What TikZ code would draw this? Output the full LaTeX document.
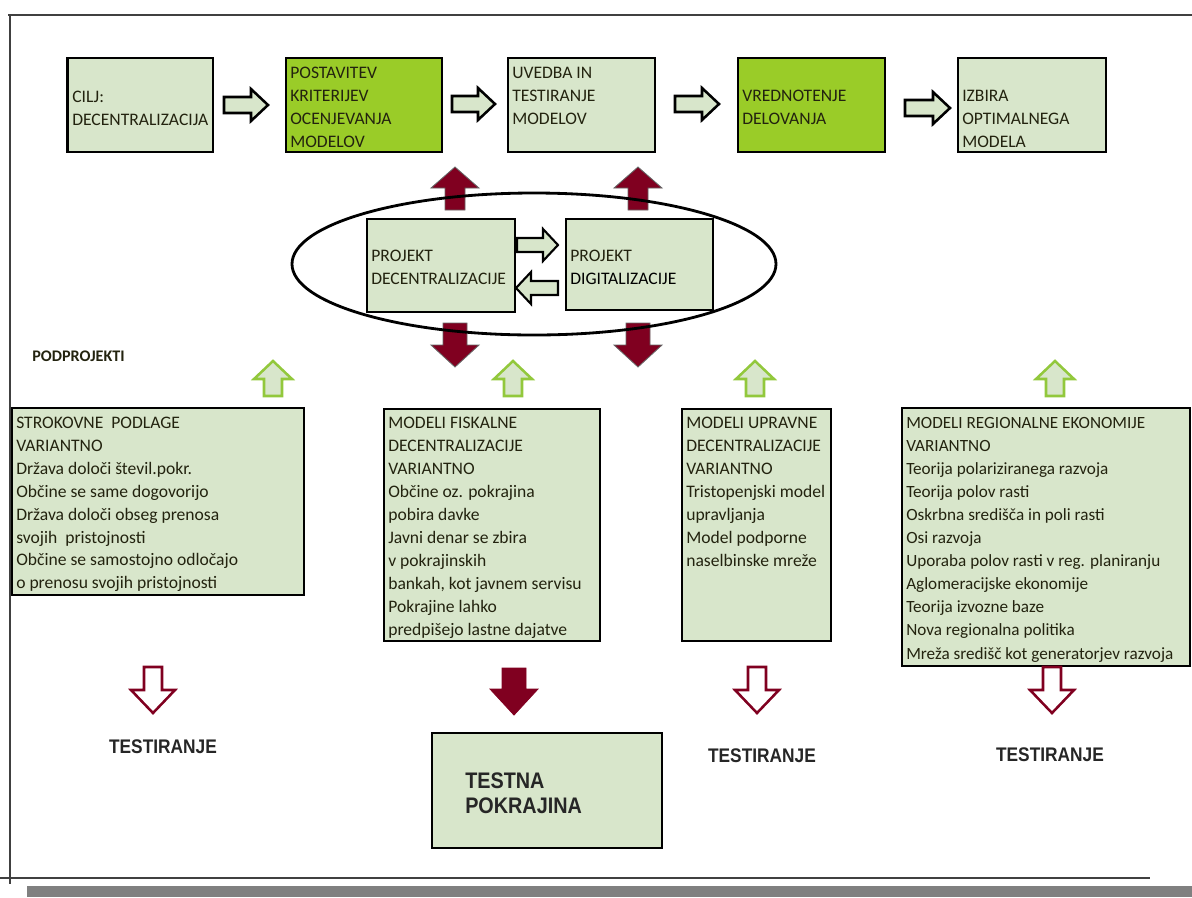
\documentclass[tikz,border=0pt]{standalone}
\usepackage{fontspec}
\setmainfont{Carlito}
\newfontfamily\narrowfont[FakeStretch=0.88]{Liberation Sans}
\definecolor{lgreen}{RGB}{216,230,203}
\definecolor{ygreen}{RGB}{154,204,40}
\definecolor{dred}{RGB}{128,0,32}
\definecolor{agreen}{RGB}{146,200,60}
\definecolor{txtc}{RGB}{35,35,15}
\newcommand\barrow[8]{\draw[#1,shift={(#2,#3)},rotate=#4] (0,-#6)--(#5-#8,-#6)--(#5-#8,-#7)--(#5,0)--(#5-#8,#7)--(#5-#8,#6)--(0,#6)--cycle;}
\tikzset{
  lbox/.style={draw=black, line width=1pt, fill=lgreen, inner sep=0pt},
  ybox/.style={draw=black, line width=1pt, fill=ygreen, inner sep=0pt},
  btxt/.style={anchor=base west, inner sep=0pt, align=left, font=\fontsize{12.5}{16.3}\selectfont, text=txtc},
  tarr/.style={draw=black, line width=1.8pt, fill=lgreen, line join=miter},
  parr/.style={draw=black, line width=1.5pt, fill=lgreen, line join=miter},
  rarr/.style={draw=black!60, line width=0.6pt, fill=dred, line join=miter},
  garr/.style={draw=agreen, line width=1.8pt, fill=lgreen, line join=miter},
  oarr/.style={draw=dred, line width=1.8pt, fill=white, line join=miter},
  farr/.style={draw=dred, line width=0.6pt, fill=dred, line join=miter},
  testlbl/.style={inner sep=0pt, font=\narrowfont\bfseries\fontsize{14}{16}\selectfont, text=black!85},
}
\begin{document}
\begin{tikzpicture}[x=0.025cm, y=-0.025cm]
\useasboundingbox (0,0) rectangle (1192,897);
% frame
\draw[line width=1.5pt, black!75] (8,15) -- (1192,15);
\draw[line width=1.2pt, black!75] (10,15) -- (10,884);
\draw[line width=1.5pt, black!75] (0,878) -- (1150,878);
\fill[black!50] (27,886) rectangle (1192,897);

% top row
\node[lbox, minimum width=145*0.025cm, minimum height=94*0.025cm] (b1) at (140.5,105) {};
\draw[line width=2.5pt] (b1.north west) -- (b1.south west);
\node[ybox, minimum width=156*0.025cm, minimum height=94*0.025cm] (b2) at (364,105) {};
\node[lbox, minimum width=147*0.025cm, minimum height=94*0.025cm] (b3) at (581.5,105) {};
\node[ybox, minimum width=147*0.025cm, minimum height=94*0.025cm] (b4) at (811.5,105) {};
\node[lbox, minimum width=148*0.025cm, minimum height=94*0.025cm] (b5) at (1032,105) {};
\node[btxt] (t1) at (72,125.3) {CILJ:\\DECENTRALIZACIJA};
\node[btxt] (t2) at (290,147.2) {POSTAVITEV\\KRITERIJEV\\OCENJEVANJA\\MODELOV};
\node[btxt] (t3) at (512,124.3) {UVEDBA IN\\TESTIRANJE\\MODELOV};
\node[btxt] (t4) at (742,124.3) {VREDNOTENJE\\DELOVANJA};
\node[btxt] (t5) at (962,147.3) {IZBIRA\\OPTIMALNEGA\\MODELA};
\barrow{tarr}{224}{105}{0}{44}{8}{16}{17}
\barrow{tarr}{452}{104}{0}{43}{8}{16}{17}
\barrow{tarr}{675}{104}{0}{44}{8}{16}{17}
\barrow{tarr}{905}{108}{0}{45}{8}{16}{17}

% middle
\barrow{rarr}{455}{210}{90}{43}{10}{24}{21}
\barrow{rarr}{638}{210}{90}{43}{10}{24}{21}
\barrow{rarr}{455}{323}{-90}{44}{12}{24}{22}
\barrow{rarr}{638}{323}{-90}{44}{12}{24}{22}
\node[lbox, minimum width=148*0.025cm, minimum height=93*0.025cm] (pdec) at (441,265.5) {};
\node[lbox, minimum width=147*0.025cm, minimum height=91*0.025cm] (pdig) at (639.5,264.5) {};
\draw[line width=2pt] (534,264) ellipse [x radius=242, y radius=71];
\node[btxt] (tdec) at (371,284) {PROJEKT\\DECENTRALIZACIJE};
\node[btxt] (tdig) at (570,284) {PROJEKT\\\textcolor{black}{DIGITALIZACIJE}};
\barrow{parr}{517}{245}{0}{41}{7}{16}{15}
\barrow{parr}{558}{288}{180}{42}{7}{16}{15}

% subprojects
\node[inner sep=0pt, anchor=base west, font=\bfseries\fontsize{11.5}{12}\selectfont, text=txtc] (pod) at (32,361) {PODPROJEKTI};
\barrow{garr}{273}{396}{90}{35}{9}{19}{18}
\barrow{garr}{513}{396}{90}{35}{9}{19}{18}
\barrow{garr}{755}{396}{90}{35}{9}{19}{18}
\barrow{garr}{1055}{396}{90}{35}{9}{19}{18}

\node[lbox, minimum width=292*0.025cm, minimum height=187*0.025cm] (sp) at (158,501.5) {};
\node[lbox, minimum width=216*0.025cm, minimum height=232*0.025cm] (mf) at (492,525) {};
\node[lbox, minimum width=149*0.025cm, minimum height=232*0.025cm] (mu) at (756.5,525) {};
\node[lbox, minimum width=288*0.025cm, minimum height=258*0.025cm] (mr) at (1046,537) {};
\node[btxt] (tsp) at (16,588.9) {STROKOVNE~ PODLAGE\\VARIANTNO\\Država določi števil.pokr.\\Občine se same dogovorijo\\Država določi obseg prenosa\\svojih~ pristojnosti\\Občine se samostojno odločajo\\o prenosu svojih pristojnosti};
\node[btxt] (tmf) at (388,635) {MODELI FISKALNE\\DECENTRALIZACIJE\\VARIANTNO\\Občine oz. pokrajina\\pobira davke\\Javni denar se zbira\\v pokrajinskih\\bankah, kot javnem servisu\\Pokrajine lahko\\predpišejo lastne dajatve};
\node[btxt] (tmu) at (686,566) {MODELI UPRAVNE\\DECENTRALIZACIJE\\VARIANTNO\\Tristopenjski model\\upravljanja\\Model podporne\\naselbinske mreže};
\node[btxt, font=\fontsize{12.2}{16.4}\selectfont] (tmr) at (906,659) {MODELI REGIONALNE EKONOMIJE\\VARIANTNO\\Teorija polariziranega razvoja\\Teorija polov rasti\\Oskrbna središča in poli rasti\\Osi razvoja\\Uporaba polov rasti v reg. planiranju\\Aglomeracijske ekonomije\\Teorija izvozne baze\\Nova regionalna politika\\Mreža središč kot generatorjev razvoja};

% bottom
\barrow{oarr}{153}{667}{-90}{46}{9}{22}{23}
\barrow{farr}{514}{668}{-90}{47}{12}{24}{26}
\barrow{oarr}{757}{667}{-90}{46}{9}{22}{23}
\barrow{oarr}{1052}{667}{-90}{46}{9}{22}{23}
\node[testlbl] (te1) at (163,747) {TESTIRANJE};
\node[testlbl] (te2) at (762,756) {TESTIRANJE};
\node[testlbl] (te3) at (1050,755) {TESTIRANJE};
\node[lbox, minimum width=230*0.025cm, minimum height=115*0.025cm] (tp) at (547,790.5) {};
\node[anchor=base west, inner sep=0pt, align=left, font=\narrowfont\bfseries\fontsize{16}{17.2}\selectfont, text=black!85] (ttp) at (465,813) {TESTNA\\POKRAJINA};
\end{tikzpicture}
\end{document}
